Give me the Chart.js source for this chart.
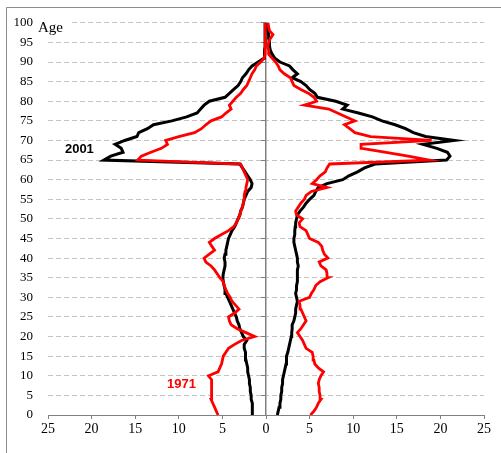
<!DOCTYPE html>
<html>
<head>
<meta charset="utf-8">
<script src="https://cdn.jsdelivr.net/npm/chart.js@4.4.0/dist/chart.umd.min.js"></script>
<style>html,body{margin:0;padding:0;background:#fff;overflow:hidden}</style>
</head>
<body>
<canvas id="c" width="501" height="453"></canvas>
<script>
const ages = [0,1,2,3,4,5,6,7,8,9,10,11,12,13,14,15,16,17,18,19,20,21,22,23,24,25,26,27,28,29,30,31,32,33,34,35,36,37,38,39,40,41,42,43,44,45,46,47,48,49,50,51,52,53,54,55,56,57,58,59,60,61,62,63,64,65,66,67,68,69,70,71,72,73,74,75,76,77,78,79,80,81,82,83,84,85,86,87,88,89,90,91,92,93,94,95,96,97,98,99,100];

const left2001 = [1.5,1.5,1.6,1.6,1.7,1.7,1.8,1.8,1.9,1.9,
 2.0,2.1,2.1,2.2,2.3,2.3,2.4,2.5,2.5,2.2,
 2.6,2.8,3.0,3.1,3.3,3.4,3.6,3.8,4.0,4.2,
 4.4,4.6,4.7,4.8,4.9,4.95,4.9,4.8,4.7,4.7,
 4.8,4.7,4.6,4.5,4.4,4.3,4.1,3.9,3.6,3.4,
 3.2,3.0,2.9,2.7,2.6,2.5,2.3,2.1,1.7,1.6,
 1.8,2.1,2.4,2.7,3.0,18.6,17.8,16.4,16.6,17.3,
 16.2,14.8,14.6,13.6,12.9,10.8,9.1,7.9,7.5,7.1,
 6.5,4.7,4.2,3.7,3.2,2.9,2.7,2.3,2.0,1.6,
 0.9,0.2,0.2,0.15,0.1,0.1,0.1,0.1,0.1,0.1,0.1];

const right2001 = [1.3,1.4,1.5,1.6,1.7,1.7,1.8,1.8,1.9,1.9,
 2.0,2.1,2.2,2.3,2.3,2.4,2.5,2.6,2.7,2.8,
 2.9,2.95,3.0,3.0,3.2,3.3,3.4,3.4,3.5,3.6,
 3.5,3.4,3.5,3.5,3.6,3.6,3.6,3.6,3.7,3.6,
 3.6,3.5,3.4,3.3,3.2,3.2,3.3,3.3,3.35,3.4,
 3.5,3.6,3.9,4.3,4.6,5.0,5.5,5.7,6.0,7.0,
 8.8,9.5,10.5,11.3,12.5,20.7,21.1,20.8,19.6,18.0,
 21.6,18.3,16.9,16.0,14.8,13.3,12.2,10.6,8.8,9.3,
 8.0,5.9,5.6,5.0,4.6,4.0,3.0,3.6,3.1,2.7,
 1.6,1.0,0.7,0.5,0.4,0.4,0.3,0.3,0.2,0.2,0.2];

const left1971 = [5.5,5.7,5.9,6.1,6.3,6.3,6.2,6.2,6.2,6.3,
 6.6,5.5,5.3,5.1,5.0,4.9,4.6,4.3,3.6,2.8,
 1.3,2.3,3.3,4.0,4.2,4.3,3.6,3.1,3.5,3.9,
 4.1,4.4,4.6,4.8,4.9,5.3,5.6,5.9,6.3,6.9,
 7.1,6.5,5.9,6.2,6.5,5.9,5.1,4.3,3.7,3.4,
 3.2,3.0,2.9,2.7,2.6,2.5,2.5,2.4,2.3,2.2,
 2.1,2.3,2.5,2.7,2.9,14.7,14.3,13.2,12.0,11.3,
 11.5,10.0,8.2,7.4,6.9,6.3,5.1,4.6,4.0,4.2,
 3.8,3.4,2.9,2.6,2.2,2.0,1.8,1.6,1.3,1.1,
 0.6,0.2,0.1,0.1,0.1,0.1,0.1,0.1,0.1,0.1,0.1];

const right1971 = [5.1,5.5,5.8,6.0,6.3,6.2,6.1,6.1,6.0,6.1,
 6.3,6.6,6.0,5.6,5.5,5.4,5.3,4.6,4.4,4.2,
 3.9,3.6,4.0,4.3,4.6,4.4,4.2,4.0,3.9,3.8,
 5.0,5.2,5.5,5.7,6.2,7.1,7.0,6.9,6.3,6.1,
 7.1,6.7,6.5,6.4,6.0,5.0,4.8,4.6,3.9,3.8,
 4.2,3.5,3.4,3.7,4.0,4.4,4.6,5.2,7.0,5.3,
 5.8,6.2,6.8,7.0,7.3,18.7,16.3,13.6,11.0,10.9,
 19.0,12.0,10.2,9.6,9.0,10.2,9.2,8.2,7.2,4.4,
 5.8,5.5,4.9,4.0,3.2,3.0,2.8,2.1,1.6,1.4,
 1.1,0.7,0.3,0.3,0.2,0.3,0.5,0.8,0.4,0.3,0.2];

const seriesNames = ['2001', '1971'];
const seriesColors = ['#000000', '#ff0000'];
const labelPos = [{x: -21.4, y: 67.8}, {x: -9.7, y: 7.8}];

function toPoints(vals, sign) {
  return vals.map((v, i) => ({x: sign * v, y: ages[i]}));
}

const frameAndLabels = {
  id: 'frameAndLabels',
  beforeDraw(chart) {
    const ctx = chart.ctx;
    ctx.save();
    ctx.fillStyle = '#ffffff';
    ctx.fillRect(0, 0, chart.width, chart.height);
    ctx.strokeStyle = '#8c8c8c';
    ctx.lineWidth = 1;
    ctx.beginPath();
    ctx.moveTo(6.5, chart.height);
    ctx.lineTo(6.5, 7.5);
    ctx.lineTo(chart.width, 7.5);
    ctx.stroke();
    ctx.restore();
  },
  afterDraw(chart) {
    const ctx = chart.ctx;
    const xs = chart.scales.x, ys = chart.scales.y;
    ctx.save();
    // Age axis title
    ctx.fillStyle = '#ffffff';
    ctx.fillRect(37, 13, 33, 22);
    ctx.fillStyle = '#000000';
    ctx.font = '15px "Liberation Serif", serif';
    ctx.textAlign = 'left';
    ctx.textBaseline = 'alphabetic';
    ctx.fillText('Age', 38, 32);
    // series labels
    ctx.font = 'bold 13px "Liberation Sans", Arial, sans-serif';
    ctx.textAlign = 'center';
    ctx.textBaseline = 'middle';
    for (let i = 0; i < seriesNames.length; i++) {
      ctx.fillStyle = seriesColors[i];
      ctx.fillText(seriesNames[i], xs.getPixelForValue(labelPos[i].x), ys.getPixelForValue(labelPos[i].y));
    }
    ctx.restore();
  }
};

const common = {showLine: true, pointRadius: 0, borderWidth: 3, tension: 0, fill: false};

new Chart(document.getElementById('c'), {
  type: 'scatter',
  data: {
    datasets: [
      Object.assign({label: '2001 L', data: toPoints(left2001, -1), borderColor: seriesColors[0], order: 1}, common),
      Object.assign({label: '2001 R', data: toPoints(right2001, 1), borderColor: seriesColors[0], order: 1}, common),
      Object.assign({label: '1971 L', data: toPoints(left1971, -1), borderColor: seriesColors[1], order: 0, borderWidth: 2.8}, {showLine: true, pointRadius: 0, tension: 0, fill: false}),
      Object.assign({label: '1971 R', data: toPoints(right1971, 1), borderColor: seriesColors[1], order: 0, borderWidth: 2.8}, {showLine: true, pointRadius: 0, tension: 0, fill: false})
    ]
  },
  options: {
    responsive: false,
    animation: false,
    devicePixelRatio: 1,
    layout: {padding: {top: 20, right: 17, bottom: 0, left: 0}},
    plugins: {legend: {display: false}, tooltip: {enabled: false}},
    scales: {
      x: {
        type: 'linear', position: 'bottom', min: -25, max: 25,
        ticks: {stepSize: 5, padding: 2, color: '#000', font: {family: '"Liberation Serif", serif', size: 14},
                callback: v => Math.abs(v)},
        grid: {drawOnChartArea: false, drawTicks: true, tickLength: 4, color: '#808080'},
        border: {display: true, color: '#808080', width: 1},
        afterFit(s) { s.height = 38; }
      },
      y: {
        type: 'linear', position: 'left', min: 0, max: 100,
        ticks: {stepSize: 5, padding: 15, color: '#000', font: {family: '"Liberation Serif", serif', size: 13}},
        grid: {drawTicks: false, color: '#c4c4c4', lineWidth: 1},
        border: {display: false, dash: [5, 3]},
        afterFit(s) { s.width = 48; }
      },
      y2: {
        type: 'linear', axis: 'y', position: {x: 0}, min: 0, max: 100,
        ticks: {display: false, stepSize: 5},
        grid: {drawOnChartArea: false, drawTicks: true, tickLength: 4, color: '#808080'},
        border: {display: true, color: '#808080', width: 1.5}
      }
    }
  },
  plugins: [frameAndLabels]
});
</script>
</body>
</html>
